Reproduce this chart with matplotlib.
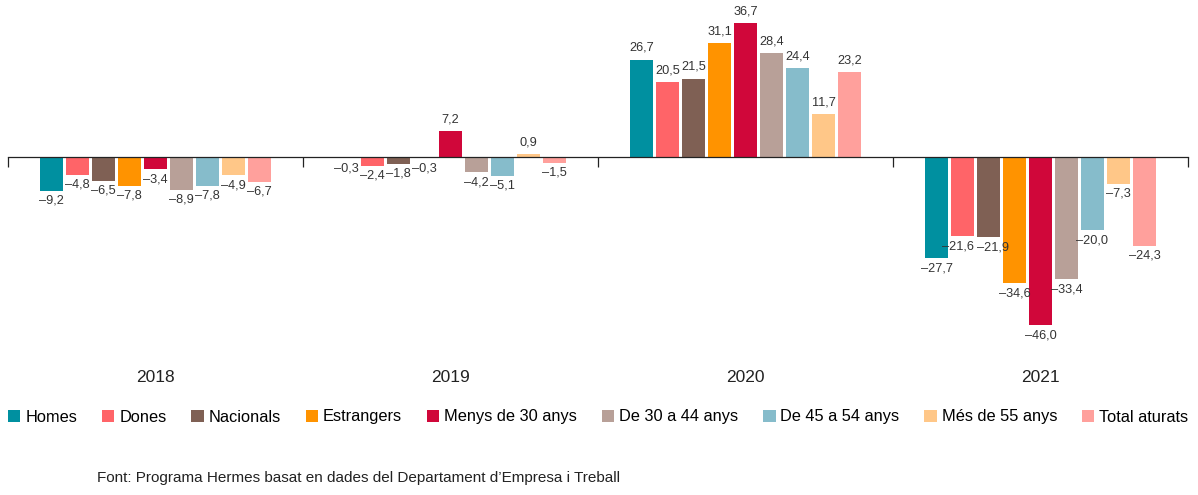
import matplotlib.pyplot as plt
import numpy as np

plt.rcParams['font.family'] = ['Liberation Sans', 'DejaVu Sans']

years = ["2018", "2019", "2020", "2021"]
series = ["Homes", "Dones", "Nacionals", "Estrangers", "Menys de 30 anys",
          "De 30 a 44 anys", "De 45 a 54 anys", "Més de 55 anys", "Total aturats"]
colors = ["#0090a0", "#ff6468", "#7f6054", "#ff9300", "#d0073a",
          "#b8a098", "#86bccb", "#ffc788", "#ffa09c"]

homes = [-9.2, -0.3, 26.7, -27.7]
dones = [-4.8, -2.4, 20.5, -21.6]
nacionals = [-6.5, -1.8, 21.5, -21.9]
estrangers = [-7.8, -0.3, 31.1, -34.6]
menys30 = [-3.4, 7.2, 36.7, -46.0]
de30_44 = [-8.9, -4.2, 28.4, -33.4]
de45_54 = [-7.8, -5.1, 24.4, -20.0]
mes55 = [-4.9, 0.9, 11.7, -7.3]
total = [-6.7, -1.5, 23.2, -24.3]
values = [homes, dones, nacionals, estrangers, menys30, de30_44, de45_54, mes55, total]

# small horizontal nudges (points) for labels that collide, (series, year)
nudges = {(1, 3): -3, (2, 3): 3}

fig = plt.figure(figsize=(11.98, 4.95), dpi=100)
ax = fig.add_axes([8 / 1198, (495 - 340) / 495, 1180 / 1198, 325 / 495])

step = 26 / 295
width = 23 / 295
centers = np.arange(len(years)) + 0.5

for k, (name, vals, c) in enumerate(zip(series, values, colors)):
    xs = centers + (k - 4) * step
    ax.bar(xs, vals, width=width, color=c, label=name)
    for j, (x, v) in enumerate(zip(xs, vals)):
        txt = f"{v:.1f}".replace(".", ",").replace("-", "\u2013")
        dx = nudges.get((k, j), 0)
        if v >= 0:
            ax.annotate(txt, (x, v), xytext=(dx, 4), textcoords="offset points",
                        ha="center", va="bottom", fontsize=9.2, color="#333333")
        else:
            ax.annotate(txt, (x, v), xytext=(dx, -3), textcoords="offset points",
                        ha="center", va="top", fontsize=9.2, color="#333333")

ax.set_xlim(0, 4)
ax.set_ylim(-50.1, 38.9)
for s in ["top", "right", "left"]:
    ax.spines[s].set_visible(False)
ax.spines["bottom"].set_position(("data", 0))
ax.spines["bottom"].set_color("#222222")
ax.spines["bottom"].set_linewidth(0.9)
ax.set_yticks([])
ax.set_xticks(np.arange(len(years) + 1))
ax.tick_params(axis="x", length=7, width=0.9, color="#222222", labelbottom=False)

for x, y in zip(centers, years):
    ax.text(x, -0.114, y, transform=ax.get_xaxis_transform(), ha="center",
            va="center", fontsize=12.5, color="#222222")

fig.legend(loc="center left", bbox_to_anchor=(8 / 1198, (495 - 417) / 495), ncol=9,
           frameon=False, fontsize=11.8, handlelength=0.75, handleheight=0.75,
           handletextpad=0.3, columnspacing=1.52, borderaxespad=0, borderpad=0)

fig.text(97 / 1198, (495 - 478) / 495,
         "Font: Programa Hermes basat en dades del Departament d\u2019Empresa i Treball",
         fontsize=11, color="#222222", va="center")

fig.savefig("out.png", dpi=100)
